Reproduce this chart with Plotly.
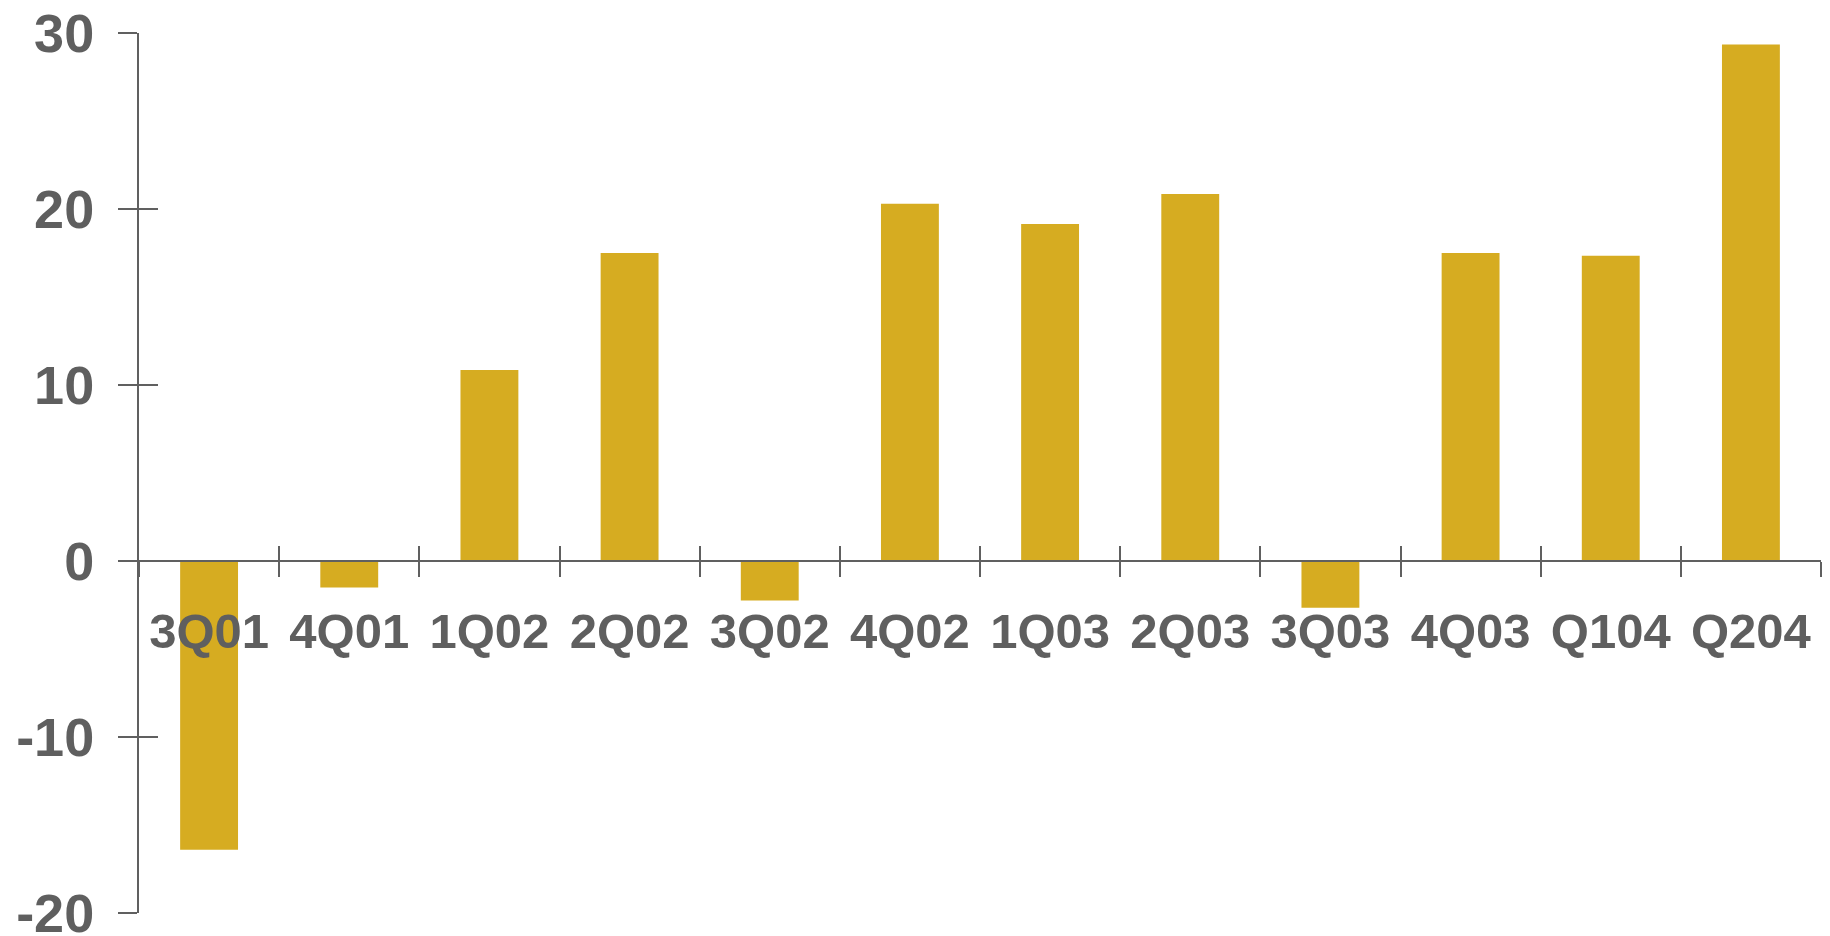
import plotly.graph_objects as go

# Quarterly values
quarters = ["3Q01", "4Q01", "1Q02", "2Q02", "3Q02", "4Q02",
            "1Q03", "2Q03", "3Q03", "4Q03", "Q104", "Q204"]
values = [-16.4, -1.5, 10.85, 17.5, -2.25, 20.3,
          19.15, 20.85, -2.65, 17.5, 17.35, 29.35]
y_ticks = [-20, -10, 0, 10, 20, 30]

BAR = "#D6AC21"
AXIS = "#606060"
TEXT = "#5F5F5F"
FONT = "Liberation Sans, Arial, sans-serif"

W, H = 1830, 936
y_min, y_max = -20, 30

fig = go.Figure()
fig.add_trace(go.Bar(x=quarters, y=values, marker_color=BAR,
                     marker_line_width=0, hoverinfo="x+y"))

n = len(quarters)
boundaries = [i - 0.5 for i in range(n + 1)]
zero_pos = (0 - y_min) / (y_max - y_min)

fig.update_layout(
    width=W, height=H,
    margin=dict(l=139, r=9, t=33, b=23, autoexpand=False),
    paper_bgcolor="white", plot_bgcolor="white",
    showlegend=False,
    bargap=0.587,
    font=dict(family=FONT, color=TEXT),
    xaxis=dict(
        type="category", categoryarray=quarters,
        range=[-0.5, n - 0.5],
        anchor="free", position=zero_pos,
        showline=True, linecolor=AXIS, linewidth=2,
        ticks="outside", tickson="boundaries", ticklen=15,
        tickwidth=2, tickcolor=AXIS,
        showgrid=False, zeroline=False, automargin=False,
        tickfont=dict(family=FONT, size=49, color=TEXT, weight="bold"),
        ticklabelstandoff=27, ticklabeloverflow="allow",
    ),
    # upward halves of the category-boundary ticks
    xaxis2=dict(
        overlaying="x", anchor="free", position=zero_pos,
        range=[-0.5, n - 0.5],
        tickmode="array", tickvals=boundaries,
        ticks="inside", ticklen=15, tickwidth=2, tickcolor=AXIS,
        showticklabels=False, showline=False, showgrid=False,
        zeroline=False, automargin=False,
    ),
    yaxis=dict(
        range=[y_min, y_max],
        tickmode="array", tickvals=y_ticks,
        ticktext=[str(v) for v in y_ticks],
        showline=True, linecolor=AXIS, linewidth=2,
        ticks="outside", ticklen=19, tickwidth=2, tickcolor=AXIS,
        showgrid=False, zeroline=False, automargin=False,
        tickfont=dict(family=FONT, size=54, color=TEXT, weight="bold"),
        ticklabelstandoff=13, ticklabeloverflow="allow",
    ),
    # right halves of the value ticks
    yaxis2=dict(
        overlaying="y", anchor="x", side="left",
        range=[y_min, y_max],
        tickmode="array", tickvals=y_ticks,
        ticks="inside", ticklen=19, tickwidth=2, tickcolor=AXIS,
        showticklabels=False, showline=False, showgrid=False,
        zeroline=False, automargin=False,
    ),
)

# invisible helper trace so the overlay axes are drawn
fig.add_trace(go.Scatter(x=[boundaries[0]], y=[0], xaxis="x2", yaxis="y2",
                         mode="markers", marker=dict(opacity=0),
                         hoverinfo="skip", showlegend=False))

fig.write_html("out.html")
